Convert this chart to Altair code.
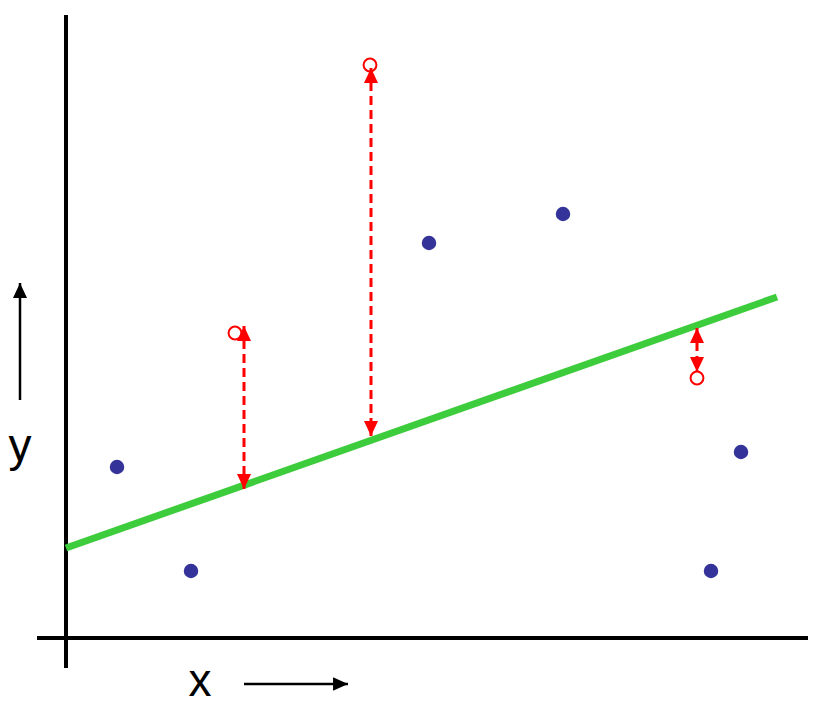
import altair as alt
import pandas as pd

# Data (units: 1 unit ~ 10 px, origin at axes crossing)
pts_x = [5.1, 12.5, 36.3, 49.7, 64.5, 67.5]
pts_y = [17.1, 6.7, 39.5, 42.4, 6.7, 18.6]

fit_x = [0.0, 71.1]
fit_y = [9.0, 34.1]

out_x = [16.9, 30.4, 63.1]
out_y = [30.5, 57.3, 26.0]

res_x = [17.8, 30.5, 63.1]
res_top = [31.2, 57.0, 31.0]
res_bot = [14.9, 20.2, 26.6]

axis_v = {"x": [0.0], "y": [-3.0], "y2": [62.3]}
axis_h = {"y": [0.0], "x": [-2.9], "x2": [74.2]}

lab_text = ["y", "x"]
lab_x = [-4.6, 13.4]
lab_y = [19.1, -4.4]

yarrow = {"x": [-4.6], "y": [23.8], "y2": [35.5]}
xarrow = {"y": [-4.6], "x": [17.8], "x2": [28.2]}

XS = alt.Scale(domain=[-5.8, 75.3], nice=False, zero=False)
YS = alt.Scale(domain=[-6.4, 63.0], nice=False, zero=False)

def X(f="x"):
    return alt.X(f"{f}:Q", scale=XS, axis=None)

def Y(f="y"):
    return alt.Y(f"{f}:Q", scale=YS, axis=None)

UP = "M0,0L-1.08,2.3L1.08,2.3Z"
DOWN = "M0,0L-1.08,-2.3L1.08,-2.3Z"
RIGHT = "M0,0L-2.3,-1.05L-2.3,1.05Z"

df_v = pd.DataFrame(axis_v)
df_h = pd.DataFrame(axis_h)
vline = alt.Chart(df_v).mark_rule(color="black", strokeWidth=4).encode(
    x=X(), y=Y(), y2="y2:Q")
hline = alt.Chart(df_h).mark_rule(color="black", strokeWidth=4).encode(
    x=X(), x2="x2:Q", y=Y())

df_fit = pd.DataFrame({"x": fit_x, "y": fit_y})
fit = alt.Chart(df_fit).mark_line(color="#3ccc3c", strokeWidth=7).encode(x=X(), y=Y())

df_pts = pd.DataFrame({"x": pts_x, "y": pts_y})
pts = alt.Chart(df_pts).mark_circle(color="#333399", size=210, opacity=1).encode(x=X(), y=Y())

df_res = pd.DataFrame({"x": res_x, "top": res_top, "bot": res_bot})
dash = alt.Chart(df_res).mark_rule(color="#ff0000", strokeWidth=3, strokeDash=[9, 5]).encode(
    x=X(), y=Y("top"), y2="bot:Q")
head_up = alt.Chart(df_res).mark_point(shape=UP, filled=True, color="#ff0000", size=169, opacity=1).encode(
    x=X(), y=Y("top"))
head_dn = alt.Chart(df_res).mark_point(shape=DOWN, filled=True, color="#ff0000", size=169, opacity=1).encode(
    x=X(), y=Y("bot"))

df_out = pd.DataFrame({"x": out_x, "y": out_y})
outl = alt.Chart(df_out).mark_point(shape="circle", filled=False, color="#ff0000", size=165,
                                    strokeWidth=2, opacity=1).encode(x=X(), y=Y())

df_ya = pd.DataFrame(yarrow)
ya_line = alt.Chart(df_ya).mark_rule(color="black", strokeWidth=2.5).encode(x=X(), y=Y(), y2="y2:Q")
ya_head = alt.Chart(df_ya).mark_point(shape=UP, filled=True, color="black", size=169, opacity=1).encode(
    x=X(), y=Y("y2"))
df_xa = pd.DataFrame(xarrow)
xa_line = alt.Chart(df_xa).mark_rule(color="black", strokeWidth=2.5).encode(x=X(), x2="x2:Q", y=Y())
xa_head = alt.Chart(df_xa).mark_point(shape=RIGHT, filled=True, color="black", size=169, opacity=1).encode(
    x=X("x2"), y=Y())

df_lab = pd.DataFrame({"t": lab_text, "x": lab_x, "y": lab_y})
labels = alt.Chart(df_lab).mark_text(font="Liberation Sans", fontSize=46, color="black",
                                     align="center", baseline="middle").encode(
    x=X(), y=Y(), text="t:N")

chart = alt.layer(
    vline, hline, fit, dash, head_up, head_dn, outl, pts,
    ya_line, ya_head, xa_line, xa_head, labels
).properties(
    width=811, height=694, padding=0,
    autosize=alt.AutoSizeParams(type="none")
).configure_view(stroke=None)

chart.save("out.html", embed_options={"renderer": "svg", "actions": False})
